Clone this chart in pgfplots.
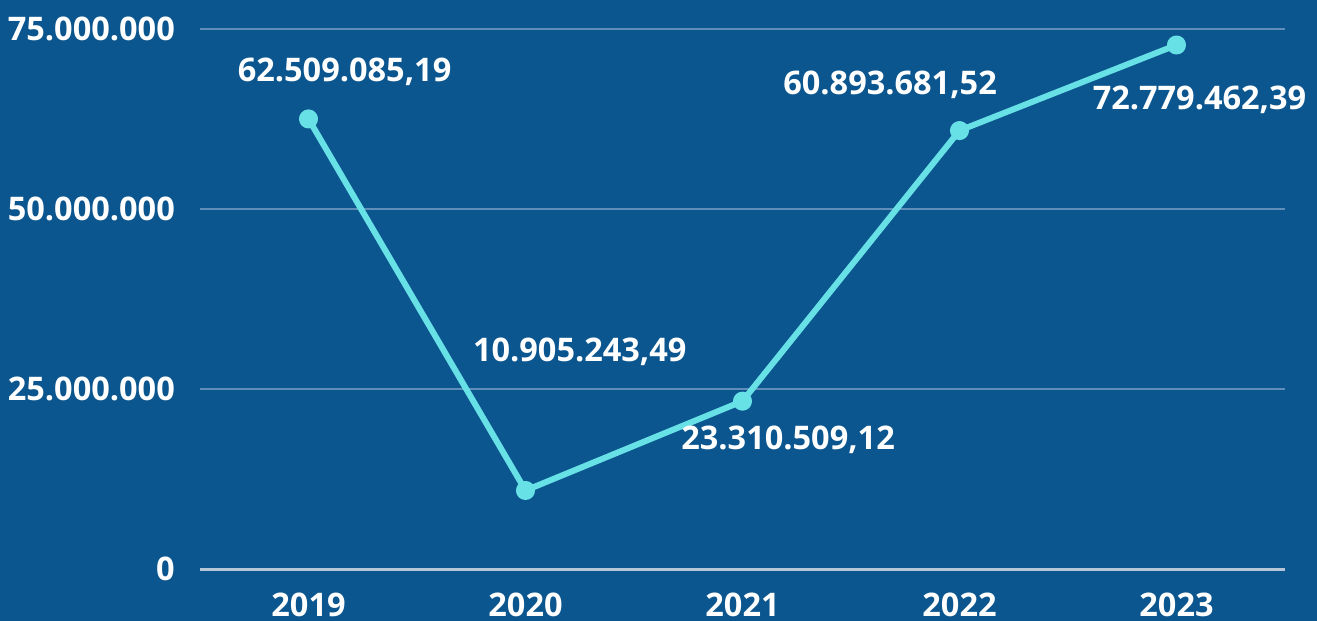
\documentclass[border=0pt]{standalone}
\usepackage{pgfplots}
\pgfplotsset{compat=1.18}
\usepackage{fontspec}
\setmainfont{Open Sans}
\definecolor{bgblue}{HTML}{0B568F}
\definecolor{linecyan}{HTML}{68E1E6}
\definecolor{gridblue}{HTML}{5F8EB8}
\definecolor{axisgray}{HTML}{B4C6D8}
\newcommand\lab{\fontsize{32.5}{38}\selectfont\bfseries}
\begin{document}
\begin{tikzpicture}[x=1pt,y=1pt]
\fill[bgblue] (0,0) rectangle (1317,621);
\begin{axis}[
  at={(200pt,52pt)}, anchor=south west,
  scale only axis, width=1085pt, height=540pt,
  xmin=-0.5, xmax=4.5, ymin=0, ymax=75000000,
  axis x line*=bottom, axis y line*=left,
  x axis line style={draw=axisgray, line width=3pt, -},
  y axis line style={draw=none},
  major tick length=0pt,
  scaled y ticks=false,
  xtick={0,1,2,3,4},
  xticklabels={2019,2020,2021,2022,2023},
  ytick={0,25000000,50000000,75000000},
  yticklabels={0,25.000.000,50.000.000,75.000.000},
  ymajorgrids, grid style={draw=gridblue, line width=1.3pt},
  tick label style={font=\lab, text=white, inner sep=0pt},
  xticklabel style={anchor=north, yshift=-24pt},
  yticklabel style={anchor=east, xshift=-25pt},
  clip=false,
]
\addplot[linecyan, line width=6pt, line join=round, mark=*, mark size=6.5pt,
  mark options={fill=linecyan, draw=none}]
  coordinates {(0,62509085.19) (1,10905243.49) (2,23310509.12) (3,60893681.52) (4,72779462.39)};
\node[font=\lab, text=white] at (axis cs:0.166,69000000) {62.509.085,19};
\node[font=\lab, text=white] at (axis cs:1.25,30100000) {10.905.243,49};
\node[font=\lab, text=white] at (axis cs:2.21,17900000) {23.310.509,12};
\node[font=\lab, text=white] at (axis cs:2.68,67200000) {60.893.681,52};
\node[font=\lab, text=white] at (axis cs:4.106,65100000) {72.779.462,39};
\end{axis}
\pgfresetboundingbox
\useasboundingbox (0,0) rectangle (1317,621);
\end{tikzpicture}
\end{document}
